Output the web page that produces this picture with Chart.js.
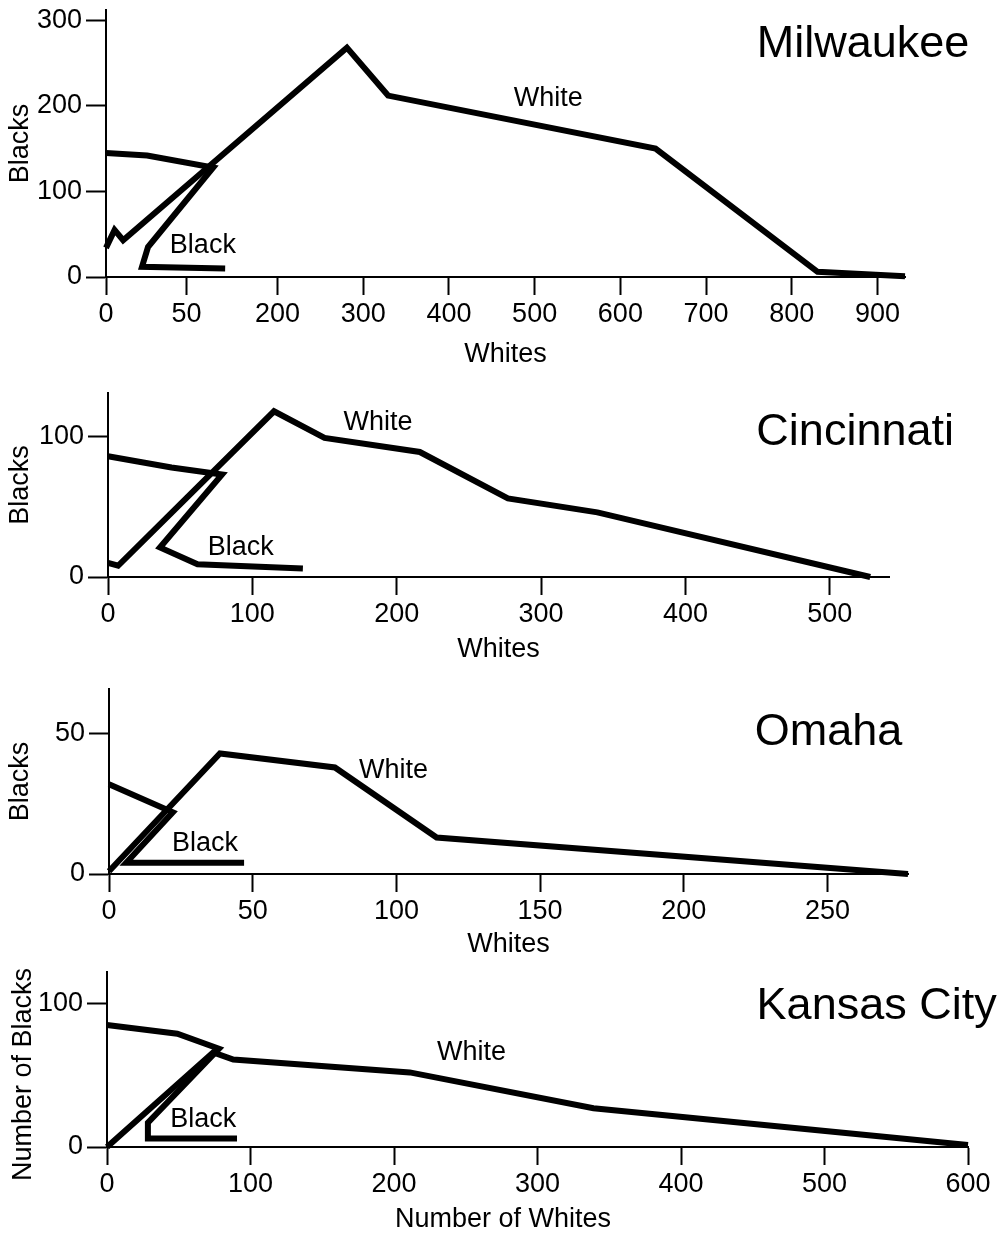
<!DOCTYPE html>
<html>
<head>
<meta charset="utf-8">
<script src="https://cdn.jsdelivr.net/npm/chart.js@4.4.1/dist/chart.umd.min.js"></script>
<style>
  html, body { margin: 0; padding: 0; background: #fff; }
  #wrap { position: relative; width: 1004px; height: 1234px; overflow: hidden; }
  canvas { position: absolute; left: 0; }
</style>
</head>
<body>
<div id="wrap">
  <canvas id="milwaukee"></canvas>
  <canvas id="cincinnati"></canvas>
  <canvas id="omaha"></canvas>
  <canvas id="kansas"></canvas>
</div>
<script>
// --- Milwaukee ---
const milwaukeeWhiteX = [0, 10, 20, 281, 329, 641, 830, 932];
const milwaukeeWhiteY = [34, 55, 43, 268, 212, 150, 6, 1];
const milwaukeeBlackX = [0, 48, 125, 49, 42, 139];
const milwaukeeBlackY = [145, 142, 128, 35, 12, 10];
const milwaukeeTicksX = [0, 94, 200, 300, 400, 500, 600, 700, 800, 900];
const milwaukeeTickLabelsX = ['0', '50', '200', '300', '400', '500', '600', '700', '800', '900'];
const milwaukeeTicksY = [0, 100, 200, 300];

// --- Cincinnati ---
const cincinnatiWhiteX = [0, 7, 115, 150, 216, 277, 339, 528];
const cincinnatiWhiteY = [10, 8, 118, 99, 89, 56, 46, 0];
const cincinnatiBlackX = [0, 44, 79, 36, 62, 135];
const cincinnatiBlackY = [86, 78, 73, 21, 9, 6];
const cincinnatiTicksX = [0, 100, 200, 300, 400, 500];
const cincinnatiTicksY = [0, 100];

// --- Omaha ---
const omahaWhiteX = [0, 38.6, 78.6, 114, 278];
const omahaWhiteY = [1, 43, 38, 13, 0];
const omahaBlackX = [0, 22.2, 6, 47];
const omahaBlackY = [32, 22, 4, 4];
const omahaTicksX = [0, 50, 100, 150, 200, 250];
const omahaTicksY = [0, 50];

// --- Kansas City ---
const kansasWhiteX = [0, 74, 88, 211, 339, 600];
const kansasWhiteY = [0, 66, 61, 52, 27, 1.4];
const kansasBlackX = [0, 49, 78, 28.5, 28.5, 90.6];
const kansasBlackY = [85, 79, 68.5, 17, 6, 6];
const kansasTicksX = [0, 100, 200, 300, 400, 500, 600];
const kansasTicksY = [0, 100];

const FONT = '"Liberation Sans", Arial, Helvetica, sans-serif';
const TICK_SIZE = 27;
const NOTE_SIZE = 27;
const CITY_SIZE = 45;

function toPoints(xs, ys) {
  return xs.map((x, i) => ({ x: x, y: ys[i] }));
}

// draws the "White" / "Black" labels, city names (and off-centre axis titles) at data positions
function notesPlugin(notes) {
  return {
    id: 'notes',
    afterDatasetsDraw(chart) {
      const { ctx } = chart;
      const sx = chart.scales.x, sy = chart.scales.y;
      notes.forEach(n => {
        ctx.save();
        ctx.fillStyle = '#000';
        ctx.textBaseline = 'middle';
        ctx.font = n.size + 'px ' + FONT;
        ctx.textAlign = n.align || 'center';
        ctx.translate(sx.getPixelForValue(n.x), sy.getPixelForValue(n.y));
        if (n.rotate) ctx.rotate(n.rotate * Math.PI / 180);
        ctx.fillText(n.text, 0, 0);
        ctx.restore();
      });
    }
  };
}

function makePanel(p) {
  const cv = document.getElementById(p.id);
  cv.width = 1004;
  cv.height = p.h;
  cv.style.top = p.top + 'px';
  cv.style.width = '1004px';
  cv.style.height = p.h + 'px';

  const xAxisH = p.xTitleY - p.bottom + TICK_SIZE * 0.6;
  const showTitles = p.xTitle !== undefined;

  const line = (pts) => ({
    data: pts,
    showLine: true,
    borderColor: '#000',
    borderWidth: 6,
    pointRadius: 0,
    tension: 0,
    fill: false,
    clip: false
  });

  new Chart(cv, {
    type: 'scatter',
    data: {
      datasets: [line(p.white), line(p.black)]
    },
    options: {
      responsive: false,
      animation: false,
      events: [],
      layout: {
        padding: {
          left: 0,
          top: p.areaTop - p.top,
          right: 1004 - p.right,
          bottom: p.top + p.h - p.bottom - xAxisH
        }
      },
      plugins: { legend: { display: false }, tooltip: { enabled: false } },
      scales: {
        x: {
          type: 'linear',
          min: 0,
          max: p.xMax,
          afterBuildTicks: s => { s.ticks = p.xTicks.map(v => ({ value: v })); },
          afterFit: s => { s.height = xAxisH; s.paddingLeft = 0; s.paddingRight = 0; },
          ticks: {
            autoSkip: false,
            maxRotation: 0,
            padding: 3,
            color: '#000',
            font: { family: FONT, size: TICK_SIZE },
            callback: (v, i) => p.xLabels ? p.xLabels[i] : String(v)
          },
          grid: { drawOnChartArea: false, drawTicks: true, tickLength: 18, tickWidth: 2, tickColor: '#000' },
          border: { display: true, color: '#000', width: 2 },
          title: { display: showTitles, text: p.xTitle, color: '#000', padding: 0, font: { family: FONT, size: TICK_SIZE } }
        },
        y: {
          type: 'linear',
          min: 0,
          max: p.yMax,
          afterBuildTicks: s => { s.ticks = p.yTicks.map(v => ({ value: v })); },
          afterFit: s => { s.width = p.left; s.paddingTop = 0; s.paddingBottom = 0; },
          ticks: {
            autoSkip: false,
            padding: 4,
            color: '#000',
            font: { family: FONT, size: TICK_SIZE }
          },
          grid: { drawOnChartArea: false, drawTicks: true, tickLength: 20, tickWidth: 2, tickColor: '#000' },
          border: { display: true, color: '#000', width: 2 },
          title: { display: showTitles, text: p.yTitle, color: '#000', padding: { top: 4, bottom: 0 }, font: { family: FONT, size: TICK_SIZE } }
        }
      }
    },
    plugins: [notesPlugin(p.notes)]
  });
}

makePanel({
  id: 'milwaukee', top: 0, h: 372,
  left: 106, areaTop: 10, right: 905, bottom: 277, xTitleY: 355,
  xMax: 932, yMax: 312,
  xTicks: milwaukeeTicksX, xLabels: milwaukeeTickLabelsX, yTicks: milwaukeeTicksY,
  xTitle: 'Whites', yTitle: 'Blacks',
  white: toPoints(milwaukeeWhiteX, milwaukeeWhiteY),
  black: toPoints(milwaukeeBlackX, milwaukeeBlackY),
  notes: [
    { text: 'White', x: 516, y: 209, size: NOTE_SIZE },
    { text: 'Black', x: 113, y: 37, size: NOTE_SIZE },
    { text: 'Milwaukee', x: 1007, y: 271, size: CITY_SIZE, align: 'right' }
  ]
});

makePanel({
  id: 'cincinnati', top: 372, h: 293,
  left: 108, areaTop: 393, right: 889, bottom: 577, xTitleY: 650,
  xMax: 541, yMax: 131,
  xTicks: cincinnatiTicksX, yTicks: cincinnatiTicksY,
  xTitle: 'Whites', yTitle: 'Blacks',
  white: toPoints(cincinnatiWhiteX, cincinnatiWhiteY),
  black: toPoints(cincinnatiBlackX, cincinnatiBlackY),
  notes: [
    { text: 'White', x: 187, y: 110, size: NOTE_SIZE },
    { text: 'Black', x: 92, y: 21, size: NOTE_SIZE },
    { text: 'Cincinnati', x: 586, y: 103, size: CITY_SIZE, align: 'right' }
  ]
});

makePanel({
  id: 'omaha', top: 665, h: 290,
  left: 109, areaTop: 689, right: 908, bottom: 874, xTitleY: 945,
  xMax: 278, yMax: 66,
  xTicks: omahaTicksX, yTicks: omahaTicksY,
  xTitle: 'Whites', yTitle: 'Blacks',
  white: toPoints(omahaWhiteX, omahaWhiteY),
  black: toPoints(omahaBlackX, omahaBlackY),
  notes: [
    { text: 'White', x: 99, y: 37, size: NOTE_SIZE },
    { text: 'Black', x: 33.4, y: 10.7, size: NOTE_SIZE },
    { text: 'Omaha', x: 276, y: 50.3, size: CITY_SIZE, align: 'right' }
  ]
});

// Kansas City axis titles sit off-centre in the original, so they are drawn as notes
makePanel({
  id: 'kansas', top: 955, h: 279,
  left: 107, areaTop: 972, right: 968, bottom: 1147, xTitleY: 1220,
  xMax: 600, yMax: 122,
  xTicks: kansasTicksX, yTicks: kansasTicksY,
  white: toPoints(kansasWhiteX, kansasWhiteY),
  black: toPoints(kansasBlackX, kansasBlackY),
  notes: [
    { text: 'White', x: 254, y: 66, size: NOTE_SIZE },
    { text: 'Black', x: 67, y: 19, size: NOTE_SIZE },
    { text: 'Kansas City', x: 620, y: 97.6, size: CITY_SIZE, align: 'right' },
    { text: 'Number of Whites', x: 276, y: -50.9, size: TICK_SIZE },
    { text: 'Number of Blacks', x: -58.5, y: 50.6, size: TICK_SIZE, rotate: -90 }
  ]
});
</script>
</body>
</html>
